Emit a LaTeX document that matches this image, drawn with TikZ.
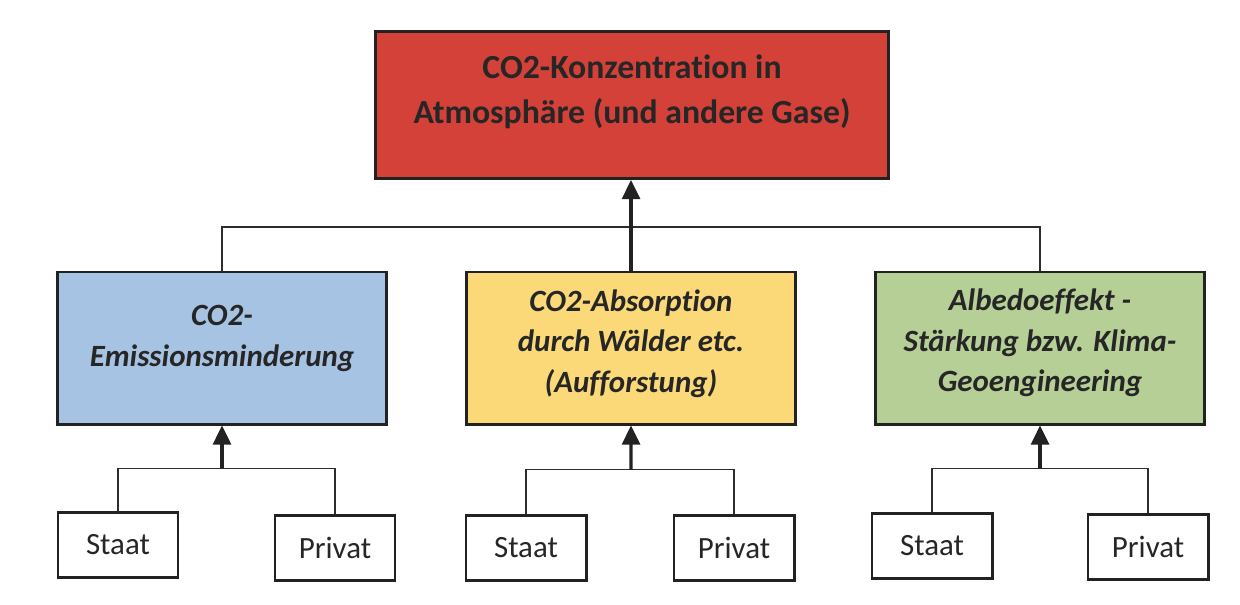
\documentclass[tikz,border=0pt]{standalone}
\usepackage{fontspec}
\setmainfont[Ligatures=NoCommon]{Carlito}
\definecolor{TopRed}{RGB}{211,65,56}
\definecolor{EmisBlue}{RGB}{167,195,227}
\definecolor{AbsYellow}{RGB}{251,217,120}
\definecolor{AlbGreen}{RGB}{181,207,150}
\definecolor{BoxBorder}{RGB}{34,34,34}
\definecolor{LinkColor}{RGB}{45,45,45}
\definecolor{TextGray}{RGB}{38,38,38}
\usetikzlibrary{
  arrows.meta,
  calc
}
\tikzset{
  % Top level box
  topbox/.style={
    rectangle,
    draw=BoxBorder,
    fill=TopRed,
    line width=2.1pt,
    minimum width=12.8cm,
    minimum height=3.675cm,
    align=center,
    text=TextGray,
    font=\fontsize{24}{32}\selectfont\bfseries
  },
  % Middle level box (measures)
  midbox/.style={
    rectangle,
    draw=BoxBorder,
    line width=2.1pt,
    minimum width=8.2cm,
    minimum height=3.8cm,
    align=center,
    text=TextGray,
    font=\fontsize{22}{29}\selectfont\bfseries\itshape
  },
  % Bottom level box (actors)
  actorbox/.style={
    rectangle,
    draw=BoxBorder,
    fill=white,
    line width=2.1pt,
    minimum width=3.0cm,
    minimum height=1.62cm,
    text=TextGray,
    font=\fontsize{22}{26}\selectfont
  },
  % Thin joining line
  link/.style={
    draw=LinkColor,
    line width=0.9pt
  },
  % Thick arrow upwards
  uparrow/.style={
    draw=BoxBorder,
    line width=2.3pt,
    -{Triangle[width=0.45cm,length=0.48cm]}
  }
}
\begin{document}
\begin{tikzpicture}[x=0.025cm, y=-0.025cm]
  \useasboundingbox (0,0) rectangle (1240,604);
  % Top level
  \node[topbox, text depth=22pt] (atmo) at (632,105) {CO2-Konzentration in\\Atmosphäre (und andere Gase)};
  % Middle level
  \node[midbox, fill=EmisBlue, text depth=17pt] (emis) at (222,348) {CO2-\\Emissionsminderung};
  \node[midbox, fill=AbsYellow, text depth=10pt] (absorb) at (631,348) {CO2-Absorption\\durch Wälder etc.\\(Aufforstung)};
  \node[midbox, fill=AlbGreen, text depth=11pt] (albedo) at (1040,348) {Albedoeffekt -\\Stärkung bzw. Klima-\\Geoengineering};
  % Middle to top
  \coordinate (jtop) at ($(atmo.south)!0.52!(atmo.south |- absorb.north)$);
  \draw[link] (emis.north) |- (jtop) -| (albedo.north);
  \draw[uparrow] (absorb.north) -- (absorb.north |- atmo.south);
  % Bottom level and joins
  \foreach \grp/\sx/\sy/\px/\py in {emis/118/545/335/548, absorb/526/548/734/548, albedo/932/546/1148/547} {
    \node[actorbox] (staat\grp) at (\sx,\sy) {Staat};
    \node[actorbox] (privat\grp) at (\px,\py) {Privat};
    \coordinate (j\grp) at ($(\grp.south)!0.5!(\grp.south |- staat\grp.north)$);
    \draw[link] (staat\grp.north) |- (j\grp) -| (privat\grp.north);
    \draw[uparrow] (j\grp) -- (\grp.south);
  }
\end{tikzpicture}
\end{document}
